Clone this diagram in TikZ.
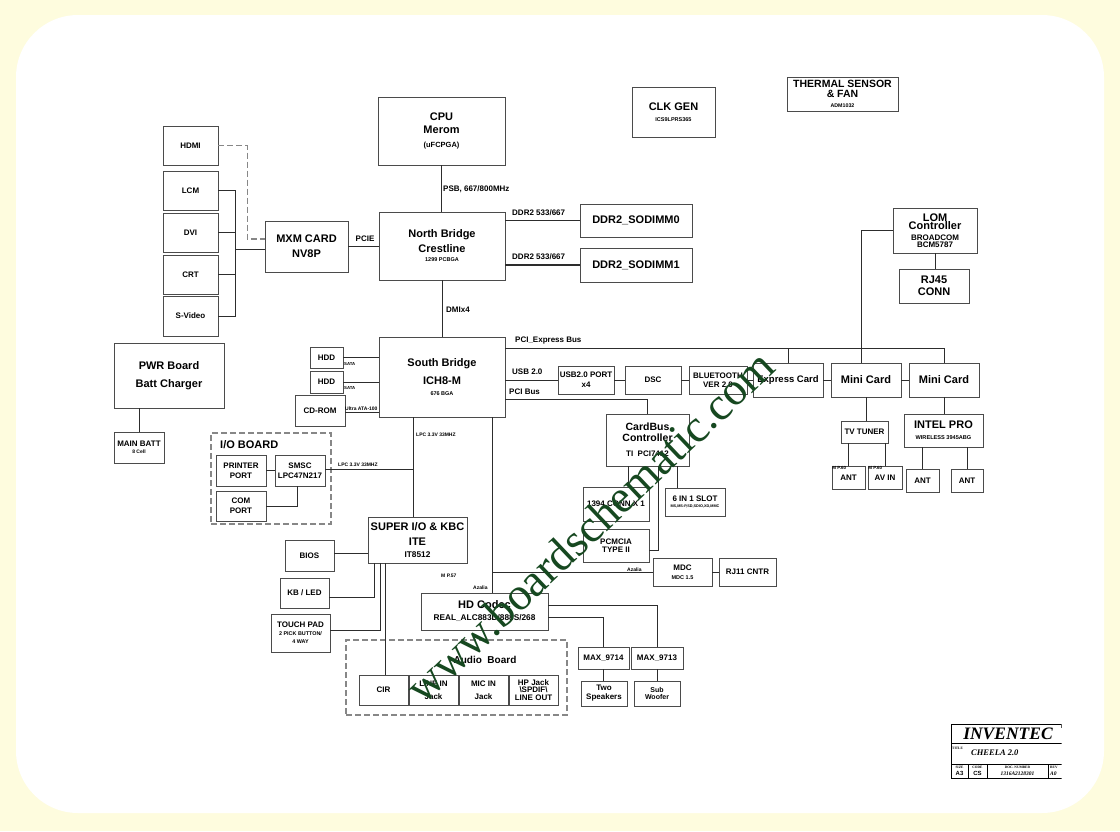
\documentclass[tikz,border=0pt]{standalone}
\usepackage{fontspec}
\setmainfont{Liberation Sans}
\newfontfamily\serifwm{Liberation Serif}
\usetikzlibrary{calc}
\definecolor{bgy}{RGB}{254,252,222}
\definecolor{wmc}{RGB}{22,72,32}
\definecolor{lnc}{RGB}{45,45,45}
\definecolor{bxc}{RGB}{75,75,75}
\definecolor{dshc}{RGB}{135,135,135}
\newcommand\fs[2]{\fontsize{#1}{#2}\selectfont}
\newcommand\bx[7][]{\node[box,minimum width={(#5-#3)*1pt},minimum height={(#6-#4)*1pt},#1] (#2) at ({(#3+#5)/2},{(#4+#6)/2}) {#7};}
\begin{document}
\begin{tikzpicture}[x=1pt,y=-1pt,
  box/.style={draw=bxc,line width=0.8pt,fill=white,inner sep=0pt,align=center,font=\bfseries\fs{8}{10}},
  grpframe/.style={draw=dshc,line width=1.2pt,dash pattern=on 6pt off 3pt,fill=none},
  wire/.style={draw=lnc,line width=0.8pt},
  buswire/.style={draw=lnc,line width=1.8pt},
  dwire/.style={draw=dshc,line width=1.2pt,dash pattern=on 6pt off 3pt},
  lbl/.style={font=\bfseries\fs{8}{9},inner sep=0pt,anchor=west},
  tiny/.style={font=\bfseries\fs{5}{6},inner sep=0pt,anchor=west}]
\useasboundingbox (0,0) rectangle (1120,831);
\fill[bgy] (0,0) rectangle (1120,831);
\fill[white,rounded corners=62pt] (16,15) rectangle (1104,813);

% group frames
\bx[grpframe]{ioboard}{211}{433}{331}{524}{}
\bx[grpframe]{audiobd}{346}{640}{567}{715}{}
\node[font=\bfseries\fs{11}{12},anchor=west,inner sep=0pt] (iolbl) at (220,445) {I/O BOARD};
\node[font=\bfseries\fs{10}{12},inner sep=0pt] (audlbl) at (485,660) {Audio\ \ Board};

% top
\bx[font=\bfseries\fs{11}{13}]{cpu}{378}{97}{505}{165}{CPU\\Merom\\[1pt]{\fs{7.5}{13}(uFCPGA)}}
\bx[font=\bfseries\fs{11}{11}]{clk}{632}{87}{715}{137}{CLK GEN\\{\fs{5.5}{11}ICS9LPRS365}}
\bx[font=\bfseries\fs{10.5}{10}]{thermal}{787}{77}{898}{111}{THERMAL SENSOR\\\& FAN\\{\fs{5.3}{10}ADM1032}}

% video
\bx{hdmi}{163}{126}{218}{165}{HDMI}
\bx{lcm}{163}{171}{218}{210}{LCM}
\bx{dvi}{163}{213}{218}{252}{DVI}
\bx{crt}{163}{255}{218}{294}{CRT}
\bx{svid}{163}{296}{218}{336}{S-Video}
\bx[font=\bfseries\fs{11}{15}]{mxm}{265}{221}{348}{272}{MXM CARD\\NV8P}
\bx[font=\bfseries\fs{11}{15}]{nb}{379}{212}{505}{280}{North Bridge\\Crestline\\[-6pt]{\fs{5.5}{15}1299 PCBGA}}
\bx[font=\bfseries\fs{11}{13}]{sodimm0}{580}{204}{692}{237}{DDR2\_SODIMM0}
\bx[font=\bfseries\fs{11}{13}]{sodimm1}{580}{248}{692}{282}{DDR2\_SODIMM1}

% LAN
\bx[font=\bfseries\fs{11}{8.5}]{lom}{893}{208}{977}{253}{LOM\\Controller\\[2.5pt]{\fs{8}{8.5}BROADCOM}\\[-1.5pt]{\fs{8}{8.5}BCM5787}}
\bx[font=\bfseries\fs{11}{12}]{rj45}{899}{269}{969}{303}{RJ45\\CONN}

% power
\bx[font=\bfseries\fs{11}{18}]{pwr}{114}{343}{224}{408}{PWR Board\\Batt Charger}
\bx{mainbatt}{114}{432}{164}{463}{MAIN BATT\\[-3.5pt]{\fs{5}{10}8 Cell}}

% south bridge
\bx[font=\bfseries\fs{11}{18}]{sb}{379}{337}{505}{417}{South Bridge\\ICH8-M\\[-7pt]{\fs{5.5}{18}676 BGA}}
\bx{hdd1}{310}{347}{343}{368}{HDD}
\bx{hdd2}{310}{371}{343}{393}{HDD}
\bx{cdrom}{295}{395}{345}{426}{CD-ROM}

% I/O board
\bx{printer}{216}{455}{266}{486}{PRINTER\\PORT}
\bx{smsc}{275}{455}{325}{486}{SMSC\\LPC47N217}
\bx{com}{216}{491}{266}{521}{COM\\PORT}

% super I/O
\bx[font=\bfseries\fs{11}{15}]{superio}{368}{517}{467}{563}{SUPER I/O \& KBC\\ITE\\[-3pt]{\fs{8.3}{15}IT8512}}
\bx{bios}{285}{540}{334}{571}{BIOS}
\bx{kbled}{280}{578}{329}{608}{KB / LED}
\bx[font=\bfseries\fs{8}{10}]{touchpad}{271}{614}{330}{652}{TOUCH PAD\\[-2pt]{\fs{5.4}{10}2 PICK BUTTON/}\\[-2pt]{\fs{5.4}{10}4 WAY}}

% audio
\bx[font=\bfseries\fs{11}{12}]{hdcodec}{421}{593}{548}{630}{HD Codec\\{\fs{8.3}{12}REAL\_ALC883D/888S/268}}
\bx{cir}{359}{675}{408}{705}{CIR}
\bx[font=\bfseries\fs{8}{13}]{linein}{409}{675}{458}{705}{LINE IN\\Jack}
\bx[font=\bfseries\fs{8}{13}]{micin}{459}{675}{508}{705}{MIC IN\\Jack}
\bx[font=\bfseries\fs{8}{7.8}]{hpjack}{509}{675}{558}{705}{HP Jack\\\textbackslash SPDIF\textbackslash\\LINE OUT}
\bx{max9714}{578}{647}{629}{669}{MAX\_9714}
\bx{max9713}{631}{647}{683}{669}{MAX\_9713}
\bx[font=\bfseries\fs{8}{9}]{twospk}{581}{681}{627}{706}{Two\\Speakers}
\bx[font=\bfseries\fs{7}{6.2}]{subwoof}{634}{681}{680}{706}{Sub\\Woofer}

% PCI / USB row
\bx{usbport}{558}{366}{614}{394}{USB2.0 PORT\\x4}
\bx{dsc}{625}{366}{681}{394}{DSC}
\bx[font=\bfseries\fs{8}{9.5}]{bt}{689}{366}{747}{394}{BLUETOOTH\\VER 2.0}
\bx[font=\bfseries\fs{9.5}{11}]{express}{753}{363}{823}{397}{Express Card}
\bx[font=\bfseries\fs{11}{12}]{mini1}{831}{363}{901}{397}{Mini Card}
\bx[font=\bfseries\fs{11}{12}]{mini2}{909}{363}{979}{397}{Mini Card}

% cardbus
\bx[font=\bfseries\fs{10.5}{11}]{cardbus}{606}{414}{689}{466}{CardBus\\Controller\\[4pt]{\fs{8}{11}TI\ \ PCI7412}}
\bx{conn1394}{583}{487}{649}{521}{1394 CONN X 1}
\bx{sixin1}{665}{488}{725}{516}{6 IN 1 SLOT\\[-3.5pt]{\fs{3.8}{10}MS,MS-P,SD,SDIO,XD,MMC}}
\bx{pcmcia}{583}{529}{649}{562}{PCMCIA\\[-2pt]TYPE II}
\bx{mdc}{653}{558}{712}{586}{MDC\\[-1pt]{\fs{5.5}{10}MDC 1.5}}
\bx{rj11}{719}{558}{776}{586}{RJ11 CNTR}

% mini card children
\bx{tvtuner}{841}{421}{888}{443}{TV TUNER}
\bx{ant1}{832}{466}{865}{489}{ANT}
\bx{avin}{868}{466}{902}{489}{AV IN}
\node[font=\bfseries\fs{4.5}{5},anchor=north west,inner sep=0.6pt] (mp1) at (ant1.north west) {M P.60};
\node[font=\bfseries\fs{4.5}{5},anchor=north west,inner sep=0.6pt] (mp2) at (avin.north west) {M P.60};
\bx[font=\bfseries\fs{11}{12}]{intelpro}{904}{414}{983}{447}{INTEL PRO\\[-1pt]{\fs{5.6}{12}WIRELESS 3945ABG}}
\bx{ant2}{906}{469}{939}{492}{ANT}
\bx{ant3}{951}{469}{983}{492}{ANT}

% ---------- connectors ----------
\draw[wire] (cpu.south) -- (cpu.south |- nb.north);
\draw[wire] (nb.south) -- (nb.south |- sb.north);
\draw[wire] (mxm.east) -- (mxm.east -| nb.west);
\draw[buswire] (sodimm0.west -| nb.east) -- (sodimm0.west);
\draw[buswire] (sodimm1.west -| nb.east) -- (sodimm1.west);
\draw[dwire] (hdmi.east) -- ++(29,0) |- ([yshift=7.5pt]mxm.west);
\draw[wire] (lcm.east) -- ++(17,0) |- (svid.east);
\draw[wire] (dvi.east) -- ++(17,0);
\draw[wire] (crt.east) -- ++(17,0);
\draw[wire] ([yshift=-2.5pt]mxm.west) -- ++(-30,0);

\draw[wire] (lom.west) -| ([xshift=-5pt]mini1.north);
\draw[wire] (lom.south) -- (lom.south |- rj45.north);

\coordinate (pcie) at ($(sb.north east)!0.15!(sb.south east)$);
\draw[wire] (pcie) -| (mini2.north);
\draw[wire] (express.north) -- (express.north |- pcie);
\draw[wire] (usbport.west -| sb.east) -- (usbport.west);
\draw[wire] (usbport) -- (dsc);
\draw[wire] (dsc) -- (bt);
\draw[wire] (bt) -- (express);
\draw[wire] (express) -- (mini1);
\draw[wire] (mini1) -- (mini2);
\coordinate (pcib) at ($(sb.north east)!0.775!(sb.south east)$);
\draw[wire] (pcib) -| (cardbus.north);

\draw[wire] ([xshift=12pt]conn1394.north) -- ([xshift=12pt]conn1394.north |- cardbus.south);
\draw[wire] ([xshift=-18pt]sixin1.north) -- ([xshift=-18pt]sixin1.north |- cardbus.south);
\draw[wire] ([yshift=-4.5pt]pcmcia.east) -| ([xshift=10.5pt]cardbus.south);

\coordinate (az) at ([xshift=7.5pt]hdcodec.north |- mdc.west);
\draw[wire] (az |- sb.south) -- (az |- hdcodec.north);
\draw[wire] (az) -- (mdc.west);
\draw[wire] (mdc) -- (rj11);

\coordinate (lpcx) at ([xshift=-4.5pt]superio.north);
\draw[wire] (lpcx |- sb.south) -- (lpcx);
\draw[wire] ([yshift=1.5pt]smsc.east) -- ([yshift=1.5pt]smsc.east -| lpcx);
\draw[wire] (printer) -- (smsc);
\draw[wire] (com.east) -| ([xshift=-3pt]smsc.south);
\draw[wire] (mainbatt.north) -- (mainbatt.north |- pwr.south);

\draw[wire] (hdd1.east) -- (hdd1.east -| sb.west);
\draw[wire] (hdd2.east) -- (hdd2.east -| sb.west);
\draw[wire] ([yshift=-2pt]cdrom.east) -- ([yshift=-2pt]cdrom.east -| sb.west);

\draw[wire] ([yshift=2.5pt]bios.east) -- ([yshift=2.5pt]bios.east -| superio.west);
\draw[wire] ([yshift=-4pt]kbled.east) -| ([xshift=-43.5pt]superio.south);
\draw[wire] ([yshift=3pt]touchpad.east) -| ([xshift=-37.5pt]superio.south);
\draw[wire] ([xshift=-32pt]superio.south) -- ([xshift=-32pt]superio.south |- cir.north);

\draw[wire] ([yshift=6.5pt]hdcodec.east) -| (max9713.north);
\draw[wire] ([yshift=-5.5pt]hdcodec.east) -| (max9714.north);
\draw[wire] (max9714.south) -- (max9714.south |- twospk.north);
\draw[wire] (max9713.south) -- (max9713.south |- subwoof.north);

\draw[wire] (mini1.south) -- (mini1.south |- tvtuner.north);
\draw[wire] (ant1.north) -- (ant1.north |- tvtuner.south);
\draw[wire] (avin.north) -- (avin.north |- tvtuner.south);
\draw[wire] (mini2.south) -- (mini2.south |- intelpro.north);
\draw[wire] (ant2.north) -- (ant2.north |- intelpro.south);
\draw[wire] (ant3.north) -- (ant3.north |- intelpro.south);

% ---------- labels ----------
\node[lbl] (lpsb) at (443,189) {PSB, 667/800MHz};
\node[lbl] (ldmi) at (446,310) {DMIx4};
\node[lbl,anchor=center] (lpcie) at (365,239) {PCIE};
\node[lbl] (lddr0) at (512,213) {DDR2 533/667};
\node[lbl] (lddr1) at (512,257) {DDR2 533/667};
\node[lbl] (lpcie2) at (515,341) {PCI\_Express Bus};
\node[lbl] (lusb) at (512,372) {USB 2.0};
\node[lbl] (lpci) at (509,392) {PCI Bus};
\node[font=\bfseries\fs{4.3}{5},inner sep=0pt,anchor=west] (lsata1) at (344,364) {SATA};
\node[font=\bfseries\fs{4.3}{5},inner sep=0pt,anchor=west] (lsata2) at (344,388) {SATA};
\node[tiny] (lata) at (345,409) {Ultra ATA-100};
\node[tiny] (llpc1) at (416,435) {LPC 3.3V 33MHZ};
\node[tiny] (llpc2) at (338,465) {LPC 3.3V 33MHZ};
\node[tiny] (laz1) at (627,570) {Azalia};
\node[tiny] (laz2) at (473,588) {Azalia};
\node[tiny] (lmp57) at (441,576) {M P.57};

% ---------- title block ----------
\begin{scope}
\clip (945,715) rectangle (1061.5,785);
\draw[black,line width=0.8pt] (951,724) -- (1075,724) (951,724) -- (951,778) -- (1075,778)
  (951,743) -- (1075,743) (951,764) -- (1075,764)
  (968,764) -- (968,778) (987,764) -- (987,778) (1048,764) -- (1048,778)
  (1061,724) -- (1061,728);
\node[font=\serifwm\bfseries\itshape\fs{17.5}{18},inner sep=0pt] (tinv) at (1008,733.5) {INVENTEC};
\node[font=\serifwm\bfseries\fs{3.5}{4},inner sep=0pt,anchor=west] (ttl) at (952,748) {TITLE};
\node[font=\serifwm\bfseries\itshape\fs{8.5}{9},inner sep=0pt,anchor=west] (tname) at (971,753) {CHEELA 2.0};
\node[font=\serifwm\bfseries\fs{3.5}{4},inner sep=0pt] (tsz) at (959.5,767) {SIZE};
\node[font=\bfseries\fs{6}{6},inner sep=0pt] (ta3) at (959.5,773.5) {A3};
\node[font=\serifwm\bfseries\fs{3.5}{4},inner sep=0pt] (tcd) at (977.5,767) {CODE};
\node[font=\bfseries\fs{6}{6},inner sep=0pt] (tcs) at (977.5,773.5) {CS};
\node[font=\serifwm\bfseries\fs{3.5}{4},inner sep=0pt] (tdn) at (1017.5,767) {DOC. NUMBER};
\node[font=\serifwm\bfseries\itshape\fs{5.5}{6},inner sep=0pt] (tnum) at (1017.5,773.5) {1316A2128301};
\node[font=\serifwm\bfseries\fs{3.5}{4},inner sep=0pt,anchor=west] (trev) at (1050,767) {REV};
\node[font=\serifwm\bfseries\itshape\fs{5.5}{6},inner sep=0pt,anchor=west] (trv) at (1050,773.5) {A0};
\end{scope}

% ---------- watermark ----------
\node[rotate=43.5,text=wmc,font=\serifwm\fs{46}{46},inner sep=0pt] (wm) at (590,526) {www.boardschematic.com};
\end{tikzpicture}
\end{document}
